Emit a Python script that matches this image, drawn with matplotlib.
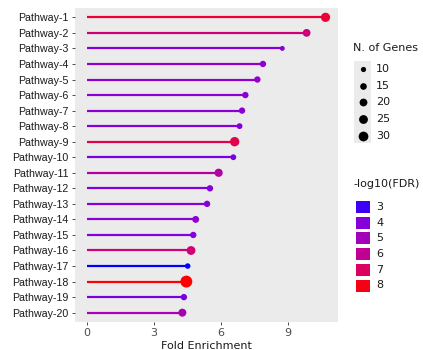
import numpy as np
import matplotlib
matplotlib.use("Agg")
from matplotlib import pyplot as plt
from matplotlib.colors import LinearSegmentedColormap, Normalize

pathways = ["Pathway-%d" % i for i in range(1, 21)]
fold = [10.70, 9.85, 8.76, 7.89, 7.64, 7.10, 6.95, 6.84, 6.62, 6.56,
        5.90, 5.51, 5.38, 4.87, 4.76, 4.66, 4.51, 4.45, 4.34, 4.27]
genes = [27, 20, 9, 14, 14, 14, 14, 12, 28, 12,
         22, 14, 14, 16, 14, 25, 11, 44, 14, 21]
fdr = [7.6, 6.5, 4.0, 4.3, 4.3, 4.2, 4.2, 3.9, 7.3, 3.8,
       5.6, 3.9, 4.0, 4.2, 4.0, 6.6, 2.6, 8.3, 3.8, 5.2]
size_breaks = [10, 15, 20, 25, 30]
fdr_breaks = [3, 4, 5, 6, 7, 8]
xticks = [0, 3, 6, 9]

cmap = LinearSegmentedColormap.from_list("bluered", [
    (0.0, "#0000ff"), (0.1, "#5a00f0"), (0.25, "#8800d8"), (0.45, "#a800b4"),
    (0.62, "#c4008c"), (0.8, "#e00058"), (1.0, "#ff0000")])
norm = Normalize(vmin=min(fdr), vmax=max(fdr))


def msize(g):
    # diameter in px grows with sqrt of genes, converted to points^2
    d = 1.3 * np.sqrt(np.maximum(2.0 * np.asarray(g, float) - 4.0, 1.0))
    return (d * 0.72) ** 2


W, H = 423, 350
fig = plt.figure(figsize=(W / 100, H / 100), dpi=100)
ax = fig.add_axes([75 / W, 1 - 322 / H, (338 - 75) / W, (322 - 8) / H])
ax.set_facecolor("#ebebeb")
for s in ax.spines.values():
    s.set_visible(False)

y = np.arange(len(pathways))
cols = cmap(norm(fdr))
ax.hlines(y, 0, fold, colors=cols, lw=1.6, zorder=2)
ax.scatter(fold, y, s=msize(genes), c=cols, zorder=3, linewidths=0)

ax.set_ylim(len(pathways) - 0.4, -0.6)
ax.set_xlim(-0.55, 11.26)
ax.set_yticks(y)
ax.set_yticklabels(pathways, fontsize=7.7, family="Liberation Sans", color="#1a1a1a")
ax.set_xticks(xticks)
ax.set_xticklabels([str(t) for t in xticks], fontsize=8, color="#4d4d4d")
ax.tick_params(length=2.5, width=0.6, color="#333333", pad=2)
ax.set_xlabel("Fold Enrichment", fontsize=8, color="#1a1a1a", labelpad=2)

# legends drawn in pixel coordinates
lax = fig.add_axes([0, 0, 1, 1])
lax.set_xlim(0, W)
lax.set_ylim(H, 0)
lax.axis("off")

lax.text(353, 48, "N. of Genes", fontsize=8, va="center", ha="left", color="#1a1a1a")
lax.add_patch(plt.Rectangle((354, 61), 17, 82, color="#ebebeb", lw=0))
for i, b in enumerate(size_breaks):
    yy = 69 + i * 16.7
    lax.scatter([362.5], [yy], s=msize([b]), c="black", linewidths=0)
    lax.text(376, yy, str(b), fontsize=8, va="center", ha="left", color="#1a1a1a")

lax.text(353, 184, "-log10(FDR)", fontsize=8, va="center", ha="left", color="#1a1a1a")
for i, b in enumerate(fdr_breaks):
    yy = 207 + i * 15.7
    lax.add_patch(plt.Rectangle((355.5, yy - 6), 14, 12, color=cmap(norm(b)), lw=0))
    lax.text(376, yy, str(b), fontsize=8, va="center", ha="left", color="#1a1a1a")

fig.savefig("out.png", dpi=100)
